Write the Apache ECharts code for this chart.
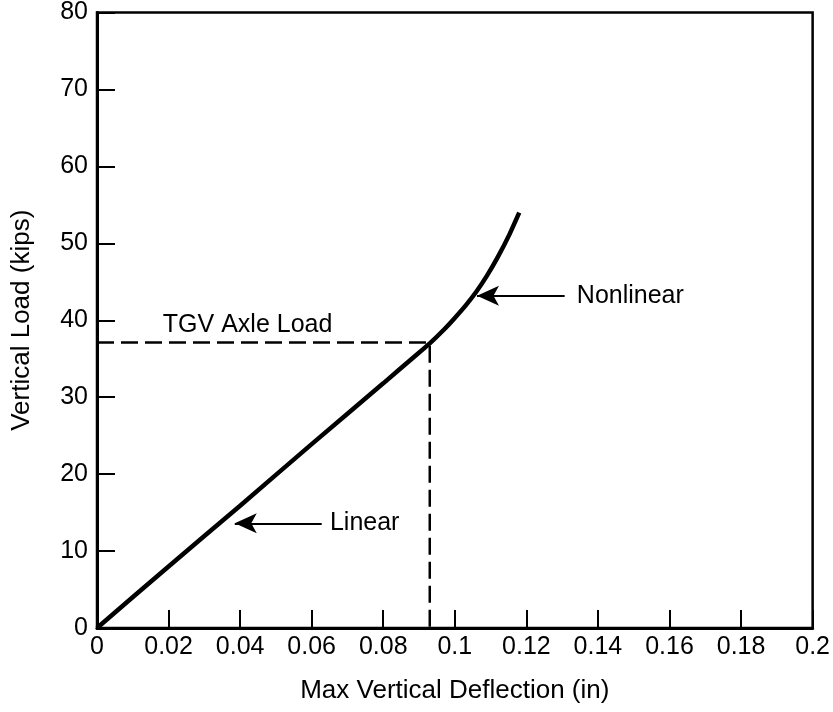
<!DOCTYPE html>
<html>
<head>
<meta charset="utf-8">
<script src="https://cdn.jsdelivr.net/npm/echarts@6/dist/echarts.min.js"></script>
<style>
html,body{margin:0;padding:0;background:#fff;}
#chart{width:833px;height:712px;}
</style>
</head>
<body>
<div id="chart"></div>
<script>
// load-deflection curve
const deflection = [0, 0.02, 0.04, 0.06, 0.08, 0.088, 0.093, 0.097, 0.1, 0.103, 0.106, 0.109, 0.112, 0.115, 0.118]
const load       = [0, 8.0,  15.9, 23.9, 31.8, 35.0,  37.0,  38.8,  40.3, 41.9,  43.7,  45.8,  48.2,  50.9,  54.0]

// TGV axle load reference lines
const axleLoad = 37.1
const axleDeflection = 0.093

// annotation arrows: [tail x, tail y, tip x, tip y]
const arrows = [
  [0.1307, 43.2, 0.1062, 43.2],
  [0.0628, 13.6, 0.0385, 13.6]
]
// annotation texts: [x, y, text]
const notes = [
  [0.1341, 43.2, 'Nonlinear'],
  [0.0651, 13.6, 'Linear'],
  [0.0184, 39.4, 'TGV Axle Load']
]

const font = 'Liberation Sans, Arial, Helvetica, sans-serif'
const mychart = echarts.init(document.getElementById('chart'))

const option = {
  animation: false,
  grid: {
    left: 97, right: 20, top: 12, bottom: 84,
    show: true,
    borderColor: '#000',
    borderWidth: 2.5
  },
  xAxis: {
    type: 'value',
    min: 0, max: 0.2, interval: 0.02,
    name: 'Max Vertical Deflection (in)',
    nameLocation: 'middle',
    nameGap: 50,
    nameTextStyle: { fontFamily: font, fontSize: 26, color: '#000' },
    axisLine: { lineStyle: { color: '#000', width: 3 } },
    axisTick: { inside: true, length: 18, lineStyle: { color: '#000', width: 2 } },
    axisLabel: { fontFamily: font, fontSize: 25, color: '#000', margin: 7 },
    splitLine: { show: false }
  },
  yAxis: {
    type: 'value',
    min: 0, max: 80, interval: 10,
    name: 'Vertical Load (kips)',
    nameLocation: 'middle',
    nameGap: 62,
    nameTextStyle: { fontFamily: font, fontSize: 26, color: '#000' },
    axisLine: { lineStyle: { color: '#000', width: 3 } },
    axisTick: { inside: true, length: 18, lineStyle: { color: '#000', width: 2 } },
    axisLabel: { fontFamily: font, fontSize: 25, color: '#000', margin: 9 },
    splitLine: { show: false }
  },
  series: [
    {
      type: 'line',
      data: deflection.map((d, i) => [d, load[i]]),
      smooth: 0.2,
      symbol: 'none',
      lineStyle: { color: '#000', width: 4.5 },
      z: 5
    },
    {
      type: 'line',
      data: [[0, axleLoad], [axleDeflection, axleLoad], [axleDeflection, 0]],
      symbol: 'none',
      lineStyle: { color: '#000', width: 2.5, type: [17, 7] },
      z: 3,
      markLine: {
        silent: true,
        symbol: ['none', 'arrow'],
        symbolSize: [15, 22],
        lineStyle: { color: '#000', width: 2, type: 'solid' },
        label: { show: false },
        data: arrows.map(a => [{ coord: [a[0], a[1]] }, { coord: [a[2], a[3]] }])
      }
    },
    {
      type: 'scatter',
      symbolSize: 0,
      itemStyle: { opacity: 1 },
      data: notes.map(n => ({ value: [n[0], n[1]], name: n[2] })),
      label: {
        show: true,
        position: 'right',
        distance: 0,
        formatter: p => p.name,
        fontFamily: font,
        fontSize: 25,
        color: '#000'
      }
    }
  ]
}
mychart.setOption(option, true)
</script>
</body>
</html>
